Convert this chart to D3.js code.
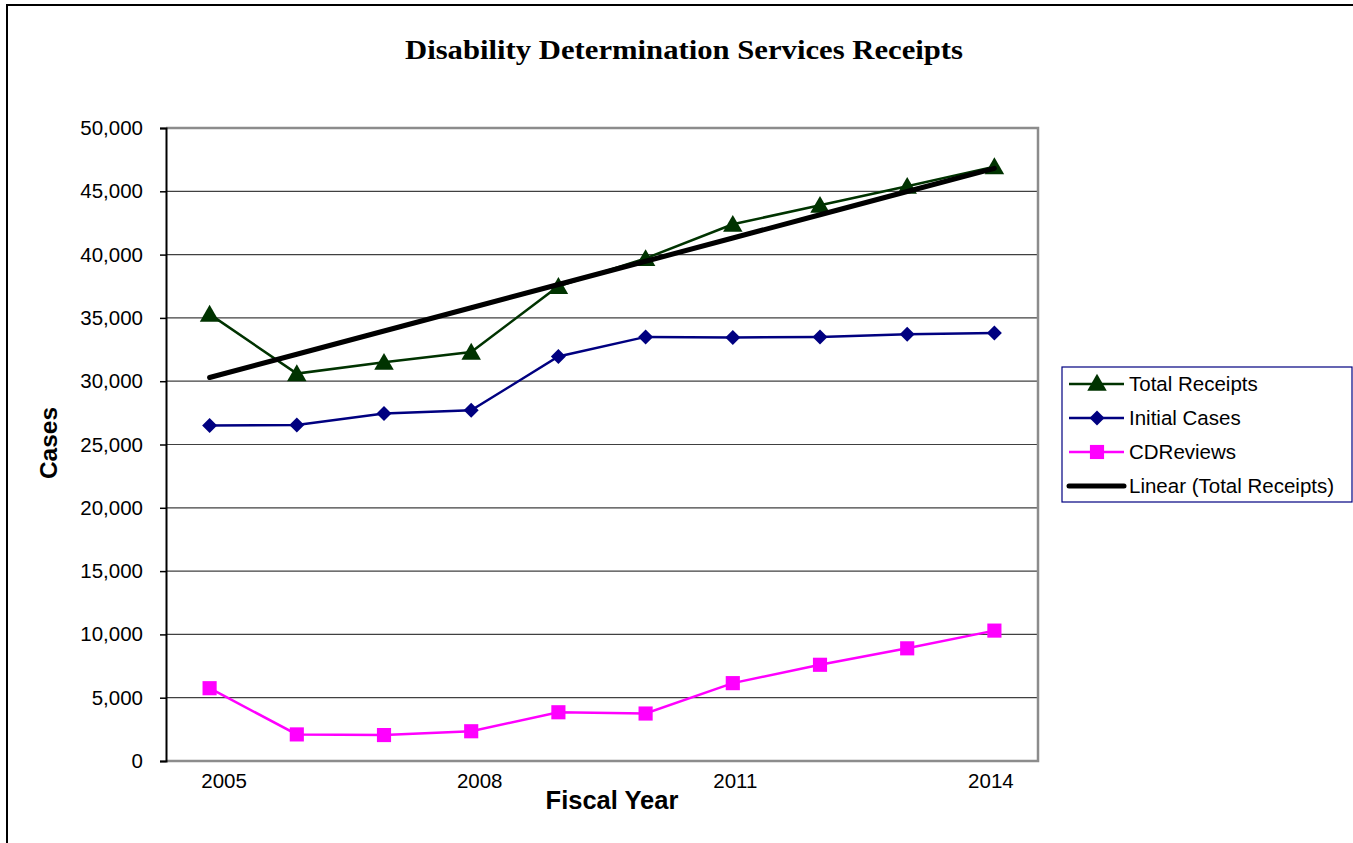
<!DOCTYPE html>
<html>
<head>
<meta charset="utf-8">
<script src="https://cdn.jsdelivr.net/npm/d3@7"></script>
<style>
  html, body { margin: 0; padding: 0; background: #fff; }
  svg { display: block; }
</style>
</head>
<body>
<svg id="chart" width="1353" height="843"></svg>
<script>
// Fiscal years and case counts
const years = [2005, 2006, 2007, 2008, 2009, 2010, 2011, 2012, 2013, 2014];
const totalReceipts = [35300, 30600, 31500, 32300, 37500, 39700, 42400, 43900, 45400, 46950];
const initialCases = [26500, 26550, 27450, 27700, 31950, 33500, 33450, 33500, 33700, 33800];
const cdReviews = [5750, 2100, 2050, 2350, 3850, 3750, 6150, 7600, 8900, 10300];
const yTicks = [0, 5000, 10000, 15000, 20000, 25000, 30000, 35000, 40000, 45000, 50000];
const xLabelYears = [2005, 2008, 2011, 2014];

// Least-squares trend line through Total Receipts
function linearFit(vals) {
  const n = vals.length;
  const mx = (n - 1) / 2;
  const my = d3.mean(vals);
  let sxy = 0, sxx = 0;
  vals.forEach((v, i) => { sxy += (i - mx) * (v - my); sxx += (i - mx) * (i - mx); });
  const slope = sxy / sxx;
  return vals.map((_, i) => my + slope * (i - mx));
}
const trend = linearFit(totalReceipts);

const svg = d3.select("#chart");
const plot = { left: 166, right: 1038, top: 128, bottom: 761 };

const x = d3.scalePoint().domain(years).range([plot.left, plot.right]).padding(0.5);
const y = d3.scaleLinear().domain([0, 50000]).range([plot.bottom, plot.top]);
// Category labels are spread slightly inside the outer data points
const xLabel = d3.scaleLinear().domain([2005, 2014]).range([x(2005) + 14, x(2014) - 4]);

// Outer chart frame
svg.append("rect").attr("x", 7).attr("y", 5).attr("width", 1400).attr("height", 900)
  .attr("fill", "none").attr("stroke", "#000").attr("stroke-width", 2);

// Title
svg.append("text").attr("x", 684).attr("y", 59).attr("text-anchor", "middle")
  .attr("font-family", "'Liberation Serif', 'Times New Roman', serif")
  .attr("font-weight", "bold").attr("font-size", 28)
  .attr("textLength", 558).attr("lengthAdjust", "spacingAndGlyphs")
  .text("Disability Determination Services Receipts");

// Gridlines
svg.append("g").selectAll("line").data(yTicks.filter(t => t > 0 && t < 50000)).join("line")
  .attr("x1", plot.left).attr("x2", plot.right)
  .attr("y1", d => y(d)).attr("y2", d => y(d))
  .attr("stroke", "#404040").attr("stroke-width", 1.2);

// Plot area border
svg.append("path")
  .attr("d", `M${plot.left},${plot.top}H${plot.right}V${plot.bottom}H${plot.left}`)
  .attr("fill", "none").attr("stroke", "#8c8c8c").attr("stroke-width", 2.5);

// Y axis
const yAxis = d3.axisLeft(y).tickValues(yTicks).tickSize(6).tickPadding(17)
  .tickFormat(d3.format(","));
const gy = svg.append("g").attr("transform", `translate(${plot.left},0)`).call(yAxis);
gy.select(".domain").attr("stroke", "#000").attr("stroke-width", 2);
gy.selectAll(".tick line").attr("stroke", "#000").attr("stroke-width", 1.5);
gy.selectAll(".tick text")
  .attr("font-family", "'Liberation Sans', Arial, sans-serif")
  .attr("font-size", 20.5).attr("fill", "#000");

// X axis labels (every third year)
const xAxis = d3.axisBottom(xLabel).tickValues(xLabelYears).tickSize(0).tickPadding(12)
  .tickFormat(d3.format("d"));
const gx = svg.append("g").attr("transform", `translate(0,${plot.bottom})`).call(xAxis);
gx.select(".domain").remove();
gx.selectAll(".tick text")
  .attr("font-family", "'Liberation Sans', Arial, sans-serif")
  .attr("font-size", 20.5).attr("fill", "#000");

// Axis titles
svg.append("text").attr("transform", "translate(57,443) rotate(-90)")
  .attr("text-anchor", "middle")
  .attr("font-family", "'Liberation Sans', Arial, sans-serif")
  .attr("font-weight", "bold").attr("font-size", 24.5)
  .text("Cases");
svg.append("text").attr("x", 612).attr("y", 809).attr("text-anchor", "middle")
  .attr("font-family", "'Liberation Sans', Arial, sans-serif")
  .attr("font-weight", "bold").attr("font-size", 25.5)
  .text("Fiscal Year");

// Marker shapes
const markerPath = {
  triangle: d3.symbol().type(d3.symbolTriangle).size(165)(),
  diamond: "M0,-7.5L7.5,0L0,7.5L-7.5,0Z",
  square: d3.symbol().type(d3.symbolSquare).size(200)()
};

const series = [
  { name: "Initial Cases", values: initialCases, color: "#000080", width: 2.5, marker: "diamond" },
  { name: "CDReviews", values: cdReviews, color: "#ff00ff", width: 2.5, marker: "square" },
  { name: "Total Receipts", values: totalReceipts, color: "#003300", width: 2.5, marker: "triangle" }
];

const line = d3.line().x((d, i) => x(years[i])).y(d => y(d));

series.forEach(s => {
  svg.append("path").datum(s.values).attr("d", line)
    .attr("fill", "none").attr("stroke", s.color).attr("stroke-width", s.width);
  svg.append("g").selectAll("path").data(s.values).join("path")
    .attr("d", markerPath[s.marker])
    .attr("transform", (d, i) => `translate(${x(years[i])},${y(d) + (s.marker === "triangle" ? 2 : 0)})`)
    .attr("fill", s.color);
});

// Trend line
svg.append("path").datum(trend).attr("d", line)
  .attr("fill", "none").attr("stroke", "#000").attr("stroke-width", 5)
  .attr("stroke-linecap", "round");

// Legend
const legend = svg.append("g");
legend.append("rect").attr("x", 1062).attr("y", 367).attr("width", 290).attr("height", 135)
  .attr("fill", "#fff").attr("stroke", "#000080").attr("stroke-width", 1.2);
const legendItems = [
  { name: "Total Receipts", color: "#003300", marker: "triangle", width: 2.5 },
  { name: "Initial Cases", color: "#000080", marker: "diamond", width: 2.5 },
  { name: "CDReviews", color: "#ff00ff", marker: "square", width: 2.5 },
  { name: "Linear (Total Receipts)", color: "#000", marker: null, width: 5 }
];
legendItems.forEach((it, i) => {
  const cy = 384 + i * 34;
  legend.append("line").attr("x1", 1069).attr("x2", 1124).attr("y1", cy).attr("y2", cy)
    .attr("stroke", it.color).attr("stroke-width", it.width).attr("stroke-linecap", it.marker ? "butt" : "round");
  if (it.marker) {
    legend.append("path").attr("d", markerPath[it.marker])
      .attr("transform", `translate(1097,${cy + (it.marker === "triangle" ? 1 : 0)})`)
      .attr("fill", it.color);
  }
  legend.append("text").attr("x", 1129).attr("y", cy + 7)
    .attr("font-family", "'Liberation Sans', Arial, sans-serif")
    .attr("font-size", 20.5).attr("fill", "#000")
    .text(it.name);
});
</script>
</body>
</html>
